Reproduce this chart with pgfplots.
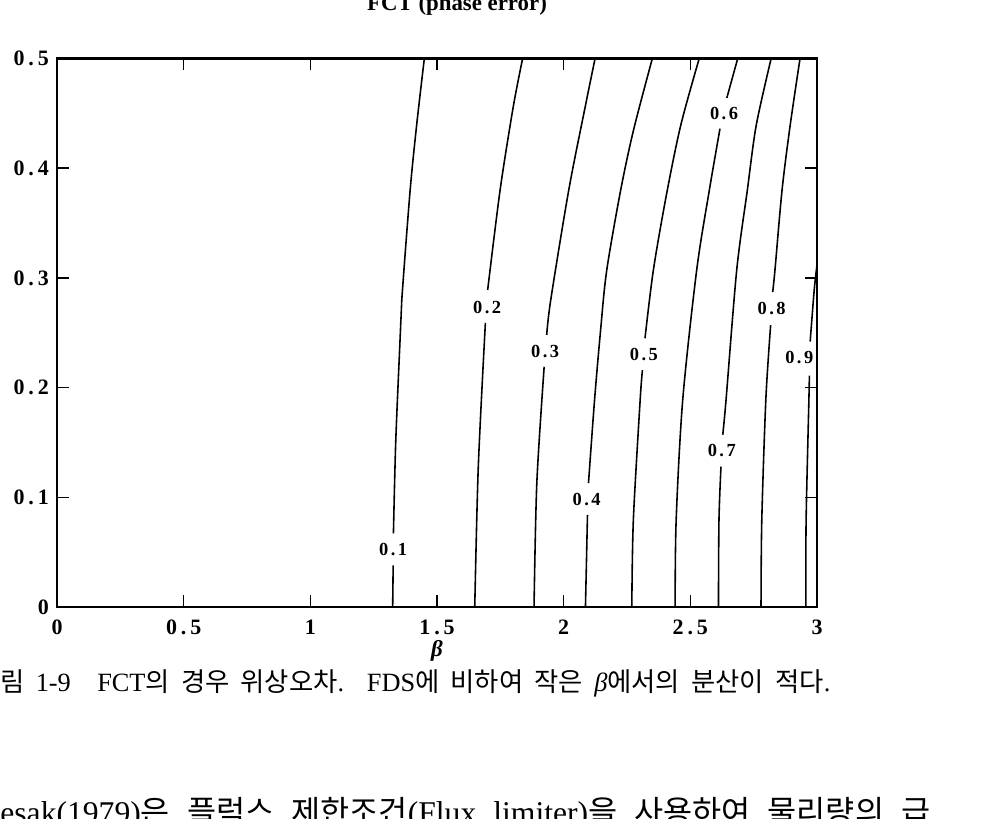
\documentclass[border=0pt]{standalone}
\usepackage{fontspec}
\setmainfont{Liberation Serif}
\newfontfamily\kr{Noto Sans CJK KR}
\usepackage{pgfplots}
\pgfplotsset{compat=1.18}
\newcommand\K[1]{{\kr #1}}
\newcommand\dd[2]{#1\kern2.2pt.\kern2.2pt#2}
\newcommand\cl[2]{#1\kern1.4pt.\kern1.4pt#2}
\begin{document}
\begin{tikzpicture}
\begin{axis}[
  at={(0,0)}, anchor=south west,
  width=15.2cm, height=10.97cm, scale only axis,
  xmin=0, xmax=3, ymin=0, ymax=0.5,
  xtick={0,0.5,1,1.5,2,2.5,3},
  xticklabels={0,\dd05,1,\dd15,2,\dd25,3},
  ytick={0,0.1,0.2,0.3,0.4,0.5},
  yticklabels={0,\dd01,\dd02,\dd03,\dd04,\dd05},
  tick align=inside,
  major tick length=0.24cm,
  axis line style={line width=1.5pt},
  every tick/.style={black, line width=0.9pt},
  tick label style={font=\fontsize{12.5}{14}\selectfont\bfseries},
  xticklabel style={yshift=-0.13cm},
  yticklabel style={xshift=-0.04cm},
  clip=true,
]
% contour 0.1
\addplot[black, line width=0.9pt, smooth] coordinates {(1.325,0) (1.327,0.038)};
\addplot[black, line width=0.9pt, smooth] coordinates {(1.328,0.067) (1.337,0.15) (1.354,0.243) (1.361,0.28) (1.394,0.38) (1.420,0.44) (1.450,0.5)};
% contour 0.2
\addplot[black, line width=0.9pt, smooth] coordinates {(1.649,0) (1.663,0.128) (1.691,0.259)};
\addplot[black, line width=0.9pt, smooth] coordinates {(1.700,0.289) (1.749,0.38) (1.801,0.456) (1.838,0.5)};
% contour 0.3
\addplot[black, line width=0.9pt, smooth] coordinates {(1.883,0) (1.894,0.113) (1.923,0.219)};
\addplot[black, line width=0.9pt, smooth] coordinates {(1.933,0.248) (1.949,0.28) (2.020,0.38) (2.085,0.456) (2.124,0.5)};
% contour 0.4
\addplot[black, line width=0.9pt, smooth] coordinates {(2.086,0) (2.094,0.084)};
\addplot[black, line width=0.9pt, smooth] coordinates {(2.098,0.113) (2.122,0.189) (2.146,0.253) (2.170,0.307) (2.225,0.38) (2.276,0.435) (2.350,0.5)};
% contour 0.5
\addplot[black, line width=0.9pt, smooth] coordinates {(2.269,0) (2.275,0.079) (2.302,0.189) (2.311,0.216)};
\addplot[black, line width=0.9pt, smooth] coordinates {(2.321,0.245) (2.354,0.307) (2.405,0.375) (2.462,0.439) (2.535,0.5)};
% contour 0.6
\addplot[black, line width=0.9pt, smooth] coordinates {(2.440,0) (2.444,0.079) (2.470,0.189) (2.525,0.307) (2.575,0.38) (2.617,0.436)};
\addplot[black, line width=0.9pt, smooth] coordinates {(2.644,0.464) (2.687,0.5)};
% contour 0.7
\addplot[black, line width=0.9pt, smooth] coordinates {(2.611,0) (2.613,0.079) (2.621,0.128)};
\addplot[black, line width=0.9pt, smooth] coordinates {(2.628,0.157) (2.641,0.189) (2.683,0.307) (2.725,0.38) (2.760,0.439) (2.819,0.5)};
% contour 0.8
\addplot[black, line width=0.9pt, smooth] coordinates {(2.779,0) (2.782,0.079) (2.798,0.189) (2.817,0.257)};
\addplot[black, line width=0.9pt, smooth] coordinates {(2.825,0.287) (2.834,0.307) (2.862,0.38) (2.894,0.439) (2.933,0.5)};
% contour 0.9
\addplot[black, line width=0.9pt, smooth] coordinates {(2.956,0) (2.957,0.079) (2.968,0.189) (2.970,0.211)};
\addplot[black, line width=0.9pt, smooth] coordinates {(2.973,0.242) (2.989,0.289) (3.0,0.312)};
% labels
\begin{scope}[every node/.style={font=\fontsize{10.5}{12}\selectfont\bfseries, inner sep=0pt}]
\node at (axis cs:1.327,0.052) {\cl01};
\node at (axis cs:1.698,0.273) {\cl02};
\node at (axis cs:1.927,0.233) {\cl03};
\node at (axis cs:2.091,0.098) {\cl04};
\node at (axis cs:2.317,0.230) {\cl05};
\node at (axis cs:2.633,0.450) {\cl06};
\node at (axis cs:2.624,0.143) {\cl07};
\node at (axis cs:2.821,0.272) {\cl08};
\node at (axis cs:2.930,0.227) {\cl09};
\end{scope}
\end{axis}
% title (partly cut by the page edge)
\node[anchor=base, font=\fontsize{13}{15}\selectfont\bfseries] at (8.0,11.93) {FCT (phase error)};
% x label
\node[font=\fontsize{13}{15}\selectfont\bfseries\itshape, inner sep=0pt] at (7.6,-0.88) {β};
% caption
\node[anchor=base west, inner sep=0pt, font=\fontsize{15}{17}\selectfont] at (-1.14,-1.70)
  {\makebox[16.6cm][s]{\llap{\K{그}}\K{림} 1-9\quad FCT\K{의} \K{경우} \K{위상오차}. FDS\K{에} \K{비하여} \K{작은} \textit{β}\K{에서의} \K{분산이} \K{적다}.}};
% next paragraph line (cut by page bottom)
\node[anchor=base west, inner sep=0pt, font=\fontsize{18}{20}\selectfont] at (-1.14,-4.34)
  {\makebox[18.6cm][s]{\llap{Zal}esak(1979)\K{은} \K{플럭스} \K{제한조건}(Flux limiter)\K{을} \K{사용하여} \K{물리량의} \K{급}}};
\pgfresetboundingbox
\useasboundingbox (-1.14,-4.24) rectangle (18.78,12.14);
\end{tikzpicture}
\end{document}
